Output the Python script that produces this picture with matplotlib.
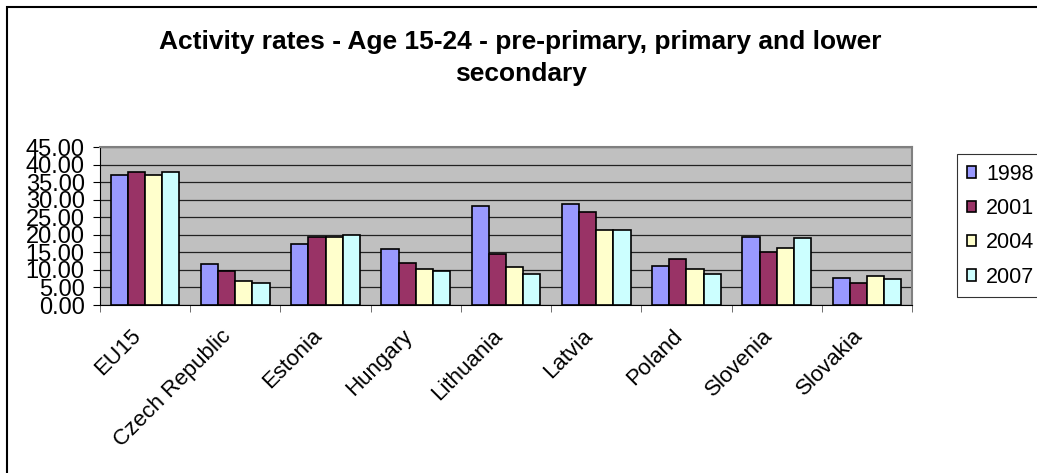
import numpy as np
import matplotlib
matplotlib.use("Agg")
import matplotlib.pyplot as plt
import matplotlib.transforms as mtransforms
from matplotlib.patches import Rectangle

plt.rcParams['font.family'] = ['Liberation Sans', 'DejaVu Sans']

countries = ["EU15", "Czech Republic", "Estonia", "Hungary", "Lithuania",
             "Latvia", "Poland", "Slovenia", "Slovakia"]
years = ["1998", "2001", "2004", "2007"]
v1998 = [37.1, 11.6, 17.5, 16.0, 28.3, 28.8, 11.1, 19.5, 7.8]
v2001 = [38.0, 9.7, 19.4, 12.0, 14.6, 26.4, 13.1, 15.1, 6.4]
v2004 = [37.1, 6.8, 19.4, 10.3, 10.7, 21.4, 10.3, 16.1, 8.3]
v2007 = [38.0, 6.3, 20.0, 9.7, 8.7, 21.4, 8.7, 19.0, 7.3]
colors = ["#9999FF", "#993366", "#FFFFCC", "#CCFFFF"]

W, H = 1037, 473
fig = plt.figure(figsize=(W / 100, H / 100), dpi=100)

# outer chart frame (runs off the right/bottom edge)
fig.patches.append(Rectangle((7 / W, -0.05), 1.1, 1 - 7 / H + 0.05,
                             transform=fig.transFigure, fill=False,
                             edgecolor="black", linewidth=1.5))

ax = fig.add_axes([100 / W, 1 - 305 / H, 812 / W, 158 / H])
ax.set_facecolor("#C0C0C0")

x = np.arange(len(countries))
bw = 0.19
series = [v1998, v2001, v2004, v2007]
for i, vals in enumerate(series):
    ax.bar(x + (i - 1.5) * bw, vals, width=bw, color=colors[i],
           edgecolor="black", linewidth=1.2, label=years[i], zorder=3)

ax.set_xlim(-0.5, len(countries) - 0.5)
ax.set_ylim(0, 45)
ax.set_yticks(np.arange(0, 46, 5))
ax.set_yticklabels(["%.2f" % v for v in np.arange(0, 46, 5)], fontsize=17)
ax.yaxis.grid(True, color="#222222", linewidth=0.9, zorder=1)
ax.set_axisbelow(True)

ax.set_xticks(x)
ax.set_xticklabels(countries, fontsize=16, rotation=45, ha="right",
                   va="center", rotation_mode="anchor")
ax.tick_params(axis="x", length=0, pad=20)
shift = mtransforms.ScaledTranslation(-7 / 100, 0, fig.dpi_scale_trans)
for lab in ax.get_xticklabels():
    lab.set_transform(lab.get_transform() + shift)
ax.set_xticks(np.arange(-0.5, len(countries)), minor=True)
ax.tick_params(axis="x", which="minor", length=5, color="#555555")
ax.tick_params(axis="y", length=5, pad=6)

for s in ["top", "right"]:
    ax.spines[s].set_color("#808080")
    ax.spines[s].set_linewidth(1.5)
ax.spines["left"].set_color("black")
ax.spines["bottom"].set_color("black")

fig.text(0.502, 1 - 58 / H,
         "Activity rates - Age 15-24 - pre-primary, primary and lower\nsecondary",
         ha="center", va="center", fontsize=19, fontweight="bold",
         linespacing=1.4)

leg = fig.legend(loc="upper left", bbox_to_anchor=(957 / W, 1 - 154 / H),
                 fontsize=15.5, frameon=True, fancybox=False, borderpad=0.45,
                 handlelength=0.45, handleheight=0.45, handletextpad=0.45,
                 labelspacing=0.62, borderaxespad=0)
leg.get_frame().set_edgecolor("black")
leg.get_frame().set_linewidth(0.8)

fig.savefig("out.png", dpi=100)
